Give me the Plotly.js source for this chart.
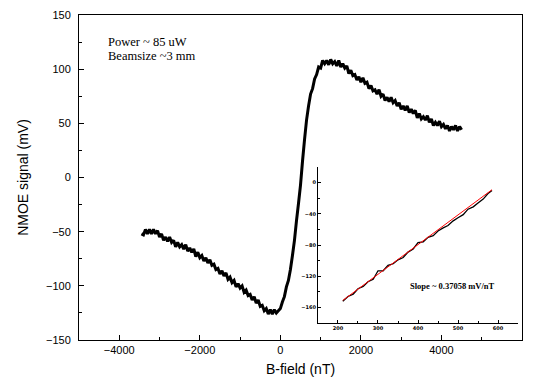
<!DOCTYPE html>
<html>
<head>
<meta charset="utf-8">
<script src="https://cdn.plot.ly/plotly-3.0.1.min.js"></script>
<style>html,body{margin:0;padding:0;background:#fff;}#chart{width:533px;height:385px;}</style>
</head>
<body>
<div id="chart"></div>
<script>
// Main NMOE curve (B-field in nT, signal in mV) (noisy trace)
const bField = [
  -3450,-3400,-3350,-3300,-3250,-3200,-3150,-3100,-3050,-3000,-2950,-2900,-2850,-2800,-2750,-2700,-2650,-2600,-2550,-2500,
  -2450,-2400,-2350,-2300,-2250,-2200,-2150,-2100,-2050,-2000,-1950,-1900,-1850,-1800,-1750,-1700,-1650,-1600,-1550,-1500,
  -1450,-1400,-1350,-1300,-1250,-1200,-1150,-1100,-1050,-1000,-950,-900,-850,-800,-750,-700,-650,-600,-550,-500,
  -450,-400,-350,-300,-250,-200,-150,-100,-50,
  0,50,100,150,200,250,300,350,400,450,500,550,600,650,700,750,800,850,900,
  950,1000,1050,1100,1150,1200,1250,1300,1350,1400,1450,1500,1550,1600,1650,1700,1750,1800,1850,1900,
  1950,2000,2050,2100,2150,2200,2250,2300,2350,2400,2450,2500,2550,2600,2650,2700,2750,2800,2850,2900,
  2950,3000,3050,3100,3150,3200,3250,3300,3350,3400,3450,3500,3550,3600,3650,3700,3750,3800,3850,3900,
  3950,4000,4050,4100,4150,4200,4250,4300,4350,4400,4450,4500];
const signal = [
  -52,-53,-48,-52,-48,-52,-48,-52,-49,-55,-52,-58,-55,-59,-55,-60,-58,-64,-60,-64,
  -62,-66,-62,-68,-65,-69,-66,-73,-69,-74,-72,-77,-74,-79,-76,-81,-80,-85,-84,-89,
  -86,-91,-88,-94,-92,-97,-95,-101,-98,-102,-100,-106,-104,-109,-108,-113,-110,-116,-113,-119,
  -118,-123,-121,-126,-122,-126,-122,-125,-123,
  -121,-115,-110,-101,-95,-85,-72,-58,-40,-24,-7,15,35,53,66,77,82,91,95,
  102,101,108,105,108,104,109,105,107,103,108,102,105,101,103,96,99,94,95,90,
  93,88,92,87,88,82,85,80,81,77,81,75,77,71,74,70,74,69,71,66,
  69,63,66,62,66,60,63,59,62,55,59,54,56,53,57,51,54,48,51,48,
  52,47,49,45,48,43,47,44,48,43,47,44];

// Inset: linear region and fit
const insetB = [212,225,238,250,263,275,288,300,313,325,338,350,363,375,388,400,413,425,438,450,463,475,488,500,513,525,538,550,563,575,585];
const insetV = [-152,-146,-143,-136,-133,-127,-124,-113,-113,-106,-104,-99,-96,-89,-85,-77,-76,-70,-68,-62,-58,-55,-49,-45,-41,-34,-31,-26,-21,-14,-10];
const fitB = [212,585];
const fitV = [-151,-9];

const noteLines = ["Power ~ 85 uW", "Beamsize ~3 mm"];
const slopeText = "Slope ~ 0.37058 mV/nT";

const traces = [
  {x: bField, y: signal, type: 'scatter', mode: 'lines', line: {color: '#000', width: 3, simplify: false}, xaxis: 'x', yaxis: 'y', hoverinfo: 'skip'},
  {x: insetB, y: insetV, type: 'scatter', mode: 'lines', line: {color: '#000', width: 1.3, simplify: false}, xaxis: 'x2', yaxis: 'y2', hoverinfo: 'skip'},
  {x: fitB, y: fitV, type: 'scatter', mode: 'lines', line: {color: '#ff0000', width: 1}, xaxis: 'x2', yaxis: 'y2', hoverinfo: 'skip'}
];

const sans = 'Liberation Sans, Arial, sans-serif';
const serif = 'Liberation Serif, Times New Roman, serif';

const layout = {
  width: 533, height: 385,
  margin: {l: 79, r: 11, t: 15, b: 45},
  paper_bgcolor: '#fff', plot_bgcolor: 'rgba(0,0,0,0)',
  showlegend: false,
  xaxis: {
    domain: [0, 1], range: [-5000, 6000], dtick: 2000, tick0: 0,
    showgrid: false, zeroline: false, showline: true, mirror: true, linecolor: '#000', linewidth: 1,
    ticks: 'inside', ticklen: 5, tickcolor: '#000',
    minor: {dtick: 1000, ticks: 'inside', ticklen: 3, tickcolor: '#000', showgrid: false},
    tickfont: {family: sans, size: 11, color: '#000'},
    title: {text: 'B-field (nT)', font: {family: sans, size: 14, color: '#000'}, standoff: 8}
  },
  yaxis: {
    domain: [0, 1], range: [-150, 150], dtick: 50,
    showgrid: false, zeroline: false, showline: true, mirror: true, linecolor: '#000', linewidth: 1,
    ticks: 'inside', ticklen: 5, tickcolor: '#000', ticklabelstandoff: 5,
    minor: {dtick: 25, ticks: 'inside', ticklen: 3, tickcolor: '#000', showgrid: false},
    tickfont: {family: sans, size: 11, color: '#000'},
    title: {text: 'NMOE signal (mV)', font: {family: sans, size: 14, color: '#000'}, standoff: 14}
  },
  xaxis2: {
    domain: [0.5395, 0.991], anchor: 'y2', range: [150, 650], dtick: 100, tick0: 0,
    showgrid: false, zeroline: false, showline: true, linecolor: '#000', linewidth: 1,
    ticks: 'inside', ticklen: 3, tickcolor: '#000',
    minor: {dtick: 50, ticks: 'inside', ticklen: 2, tickcolor: '#000', showgrid: false},
    tickfont: {family: 'DejaVu Sans', size: 5, color: '#000', weight: 'bold'}
  },
  yaxis2: {
    domain: [0.0523, 0.532], anchor: 'x2', range: [-180, 20], dtick: 40, tick0: 0,
    showgrid: false, zeroline: false, showline: true, linecolor: '#000', linewidth: 1,
    ticks: 'inside', ticklen: 3, tickcolor: '#000',
    minor: {dtick: 20, ticks: 'inside', ticklen: 2, tickcolor: '#000', showgrid: false},
    tickfont: {family: 'DejaVu Sans', size: 5, color: '#000', weight: 'bold'}
  },
  annotations: [
    {xref: 'paper', yref: 'paper', x: 0.063, y: 0.917, xanchor: 'left', yanchor: 'middle', showarrow: false, borderpad: 0,
     text: noteLines[0], font: {family: serif, size: 12.5, color: '#000'}},
    {xref: 'paper', yref: 'paper', x: 0.063, y: 0.875, xanchor: 'left', yanchor: 'middle', showarrow: false, borderpad: 0,
     text: noteLines[1], font: {family: serif, size: 12.5, color: '#000'}},
    {xref: 'x2', yref: 'y2', x: 487, y: -132, xanchor: 'center', yanchor: 'middle', showarrow: false,
     text: slopeText, font: {family: serif, size: 8.5, color: '#000', weight: 'bold'}}
  ]
};

Plotly.newPlot('chart', traces, layout, {staticPlot: true, displayModeBar: false});
</script>
</body>
</html>
